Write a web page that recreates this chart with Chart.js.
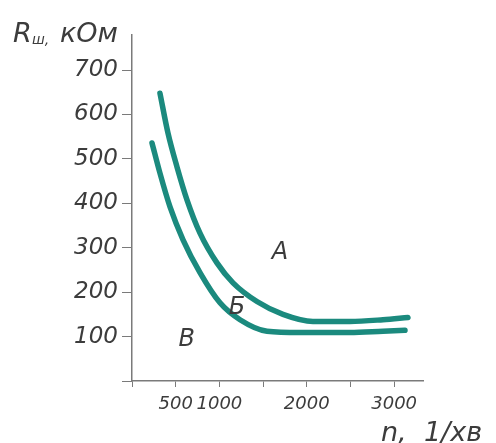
<!DOCTYPE html>
<html>
<head>
<meta charset="utf-8">
<script src="https://cdn.jsdelivr.net/npm/chart.js@4.4.1/dist/chart.umd.min.js"></script>
<style>
  html, body { margin: 0; padding: 0; background: #fff; }
  #wrap { width: 496px; height: 443px; position: relative; }
</style>
</head>
<body>
<div id="wrap"><canvas id="chart" width="496" height="443"></canvas></div>
<script>
// межа A / Б
const upperN = [320, 412, 515, 629, 778, 972, 1156, 1430, 1728, 2071, 2494, 2872, 3158];
const upperR = [648, 558, 482, 408, 333, 266, 221, 179, 150, 134, 134, 138, 143];
// межа Б / В
const lowerN = [229, 320, 435, 584, 778, 1007, 1236, 1545, 1922, 2494, 2872, 3124];
const lowerR = [536, 468, 392, 318, 244, 176, 138, 112, 109, 109, 112, 114];

const xTicks = [0, 500, 1000, 1500, 2000, 2500, 3000];
const xLabels = [500, 1000, 2000, 3000];
const yTicks = [0, 100, 200, 300, 400, 500, 600, 700];
const yLabels = [100, 200, 300, 400, 500, 600, 700];

const regionNames = ['А', 'Б', 'В'];
const regionN = [1693, 1200, 627];
const regionR = [295, 172, 100];

const textColor = '#3c3c3c';
const axisColor = '#7a7a7a';
const curveColor = '#1b8a7e';

function pts(xs, ys) {
    return xs.map((x, i) => ({ x: x, y: ys[i] }));
}

const extraText = {
    id: 'extraText',
    afterDraw(chart) {
        const { ctx, scales: { x, y } } = chart;
        ctx.save();
        ctx.fillStyle = textColor;
        ctx.textBaseline = 'alphabetic';

        // підписи областей
        ctx.font = 'italic 200 24px "DejaVu Sans"';
        ctx.textAlign = 'center';
        for (let i = 0; i < regionNames.length; i++)
            ctx.fillText(regionNames[i], x.getPixelForValue(regionN[i]), y.getPixelForValue(regionR[i]) + 9);

        // назва осі Y
        ctx.textAlign = 'left';
        ctx.font = 'italic 200 27px "DejaVu Sans"';
        ctx.fillText('R', 13, 42);
        ctx.font = 'italic 200 14px "DejaVu Sans"';
        ctx.fillText('ш,', 32, 44);
        ctx.font = 'italic 200 27px "DejaVu Sans"';
        ctx.fillText('кОм', 60, 42);

        // назва осі X
        ctx.font = 'italic 200 27px "DejaVu Sans"';
        ctx.fillText('n,', 381, 441);
        ctx.fillText('1/хв', 424, 441);
        ctx.restore();
    }
};

new Chart(document.getElementById('chart').getContext('2d'), {
    type: 'scatter',
    data: {
        datasets: [{
            data: pts(upperN, upperR),
            showLine: true,
            borderColor: curveColor,
            borderWidth: 5.5,
            pointRadius: 0,
            cubicInterpolationMode: 'monotone',
            borderCapStyle: 'round'
        }, {
            data: pts(lowerN, lowerR),
            showLine: true,
            borderColor: curveColor,
            borderWidth: 5.5,
            pointRadius: 0,
            cubicInterpolationMode: 'monotone',
            borderCapStyle: 'round'
        }]
    },
    options: {
        responsive: false,
        animation: false,
        layout: { padding: { top: 35, right: 73, left: 0, bottom: 0 } },
        plugins: {
            legend: { display: false },
            tooltip: { enabled: false }
        },
        scales: {
            x: {
                type: 'linear',
                min: 0,
                max: 3330,
                afterBuildTicks(s) { s.ticks = xTicks.map(v => ({ value: v })); },
                afterFit(s) { s.height = 62; },
                border: { display: true, color: axisColor, width: 1.5 },
                grid: { drawOnChartArea: false, tickLength: 6, color: axisColor, tickColor: axisColor },
                ticks: {
                    autoSkip: false,
                    maxRotation: 0,
                    padding: 7,
                    color: textColor,
                    font: { family: 'DejaVu Sans', size: 18, style: 'italic', weight: 200 },
                    callback: function(value) { return xLabels.includes(value) ? String(value) : ''; }
                }
            },
            y: {
                min: 0,
                max: 779,
                afterBuildTicks(s) { s.ticks = yTicks.map(v => ({ value: v })); },
                afterFit(s) { s.width = 132; },
                border: { display: true, color: axisColor, width: 1.5 },
                grid: { drawOnChartArea: false, tickLength: 10, color: axisColor, tickColor: axisColor },
                ticks: {
                    autoSkip: false,
                    padding: 4,
                    color: textColor,
                    font: { family: 'DejaVu Sans', size: 23, style: 'italic', weight: 200 },
                    callback: function(value) { return yLabels.includes(value) ? String(value) : ''; }
                }
            }
        }
    },
    plugins: [extraText]
});
</script>
</body>
</html>
